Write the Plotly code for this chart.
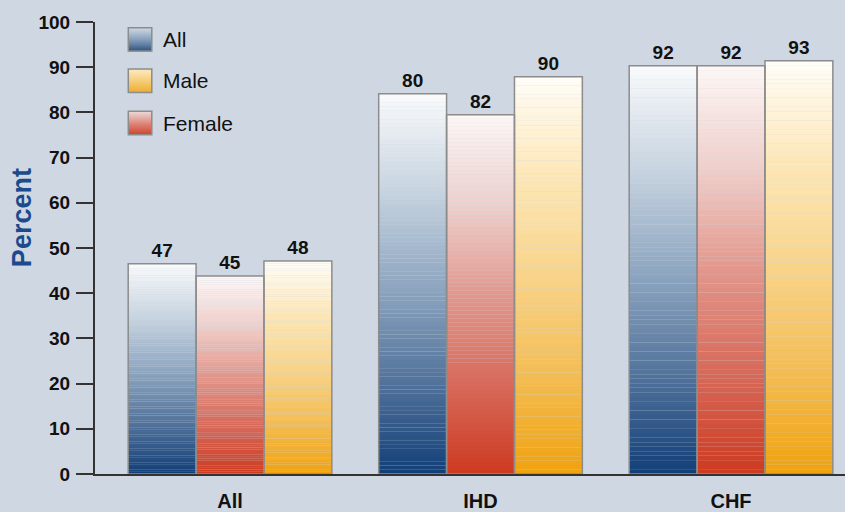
import plotly.graph_objects as go

# ---------------- data ----------------
categories = ["All", "IHD", "CHF"]
series_names = ["All", "Female", "Male"]
legend_order = ["All", "Male", "Female"]

# bar heights as drawn in the picture (percent)
all_values = [46.5, 84.1, 90.3]
female_values = [43.8, 79.5, 90.3]
male_values = [47.1, 87.9, 91.4]

# value labels printed above the bars
all_labels = ["47", "80", "92"]
female_labels = ["45", "82", "92"]
male_labels = ["48", "90", "93"]

y_ticks = [0, 10, 20, 30, 40, 50, 60, 70, 80, 90, 100]

# ---------------- styles ----------------
BG = "#cfd8e2"
FONT = "Liberation Sans"
gradients = {  # top -> bottom
    "All": ["#fafbfc", "#c8d4e0", "#8fa7c1", "#54749c", "#123f78"],
    "Female": ["#fdf7f6", "#efcfcb", "#e2978c", "#d76a5a", "#cd3a20"],
    "Male": ["#fffdf8", "#fde7b7", "#f8d48a", "#f3bd55", "#f0a20e"],
}
series_values = {"All": all_values, "Female": female_values, "Male": male_values}
series_labels = {"All": all_labels, "Female": female_labels, "Male": male_labels}


def hex2rgb(h):
    h = h.lstrip("#")
    return [int(h[i:i + 2], 16) for i in (0, 2, 4)]


def interp(stops, t):
    t = min(max(t, 0.0), 1.0)
    n = len(stops) - 1
    pos = t * n
    i = min(int(pos), n - 1)
    f = pos - i
    a, b = hex2rgb(stops[i]), hex2rgb(stops[i + 1])
    c = [round(a[j] + (b[j] - a[j]) * f) for j in range(3)]
    return "rgb(%d,%d,%d)" % tuple(c)


N = 90
fig = go.Figure()

# gradient segments
for name in series_names:
    vals = series_values[name]
    for k in range(N):
        t = 1 - (k + 0.5) / N
        fig.add_trace(go.Bar(
            x=categories,
            y=[v / N * 1.02 for v in vals],
            base=[v * k / N for v in vals],
            marker=dict(color=interp(gradients[name], t), line=dict(width=0)),
            offsetgroup=name,
            showlegend=False,
            hoverinfo="skip",
        ))

# outlines + labels
for name in series_names:
    vals = series_values[name]
    fig.add_trace(go.Bar(
        x=categories,
        y=vals,
        base=[0] * len(vals),
        name=name,
        marker=dict(color="rgba(0,0,0,0)", line=dict(color="#8c8c8c", width=1.5)),
        text=series_labels[name],
        textposition="outside",
        textfont=dict(family=FONT, size=19, color="#111111", weight="bold"),
        offsetgroup=name,
        cliponaxis=False,
        showlegend=False,
    ))

# ---------------- layout geometry ----------------
W, H = 845, 512
ML, MR, MT, MB = 95, 0, 22, 36
PW, PH = W - ML - MR, H - MT - MB


def px_x(p):
    return (p - ML) / PW


def px_y(p):
    return (H - MB - p) / PH


shapes = []
annotations = []

# legend (gradient swatches drawn as shapes)
SW = 23.5
leg_tops = [27.7, 69.3, 111.7]
for name, top in zip(legend_order, leg_tops):
    M = 24
    for k in range(M):
        t = 0.2 + 0.75 * (k + 0.5) / M
        y0 = top + SW * k / M
        y1 = top + SW * (k + 1) / M + 0.3
        shapes.append(dict(type="rect", xref="paper", yref="paper",
                           x0=px_x(128.3), x1=px_x(128.3 + SW),
                           y0=px_y(y1), y1=px_y(y0),
                           fillcolor=interp(gradients[name], t),
                           line=dict(width=0), layer="above"))
    shapes.append(dict(type="rect", xref="paper", yref="paper",
                       x0=px_x(128.3), x1=px_x(128.3 + SW),
                       y0=px_y(top + SW), y1=px_y(top),
                       fillcolor="rgba(0,0,0,0)",
                       line=dict(color="#8c8c8c", width=1.5), layer="above"))
    annotations.append(dict(text=name, xref="paper", yref="paper",
                            x=px_x(161), y=px_y(top + SW / 2),
                            xanchor="left", yanchor="middle", showarrow=False,
                            font=dict(family=FONT, size=21, color="#111111")))

# y-axis title
annotations.append(dict(text="Percent", xref="paper", yref="paper",
                        x=px_x(22), y=px_y(219), textangle=-90,
                        xanchor="center", yanchor="middle", showarrow=False,
                        font=dict(family=FONT, size=27, color="#1b4b8c", weight="bold")))

fig.update_layout(
    width=W, height=H,
    margin=dict(l=ML, r=MR, t=MT, b=MB),
    paper_bgcolor=BG, plot_bgcolor=BG,
    barmode="group", bargap=0.187, bargroupgap=0,
    showlegend=False,
    shapes=shapes, annotations=annotations,
    font=dict(family=FONT, color="#111111"),
    xaxis=dict(
        range=[-0.539, 2.455], showline=True, linecolor="#333333", linewidth=2,
        ticks="", showgrid=False, zeroline=False,
        tickfont=dict(family=FONT, size=20, color="#111111", weight="bold"),
        ticklabelstandoff=8,
    ),
    yaxis=dict(
        range=[0, 100], tickvals=y_ticks, showline=True, linecolor="#333333",
        linewidth=2, ticks="outside", ticklen=17, tickwidth=2, tickcolor="#333333",
        showgrid=False, zeroline=False,
        tickfont=dict(family=FONT, size=19, color="#111111", weight="bold"),
        ticklabelstandoff=2,
    ),
)

fig.write_html("out.html")
